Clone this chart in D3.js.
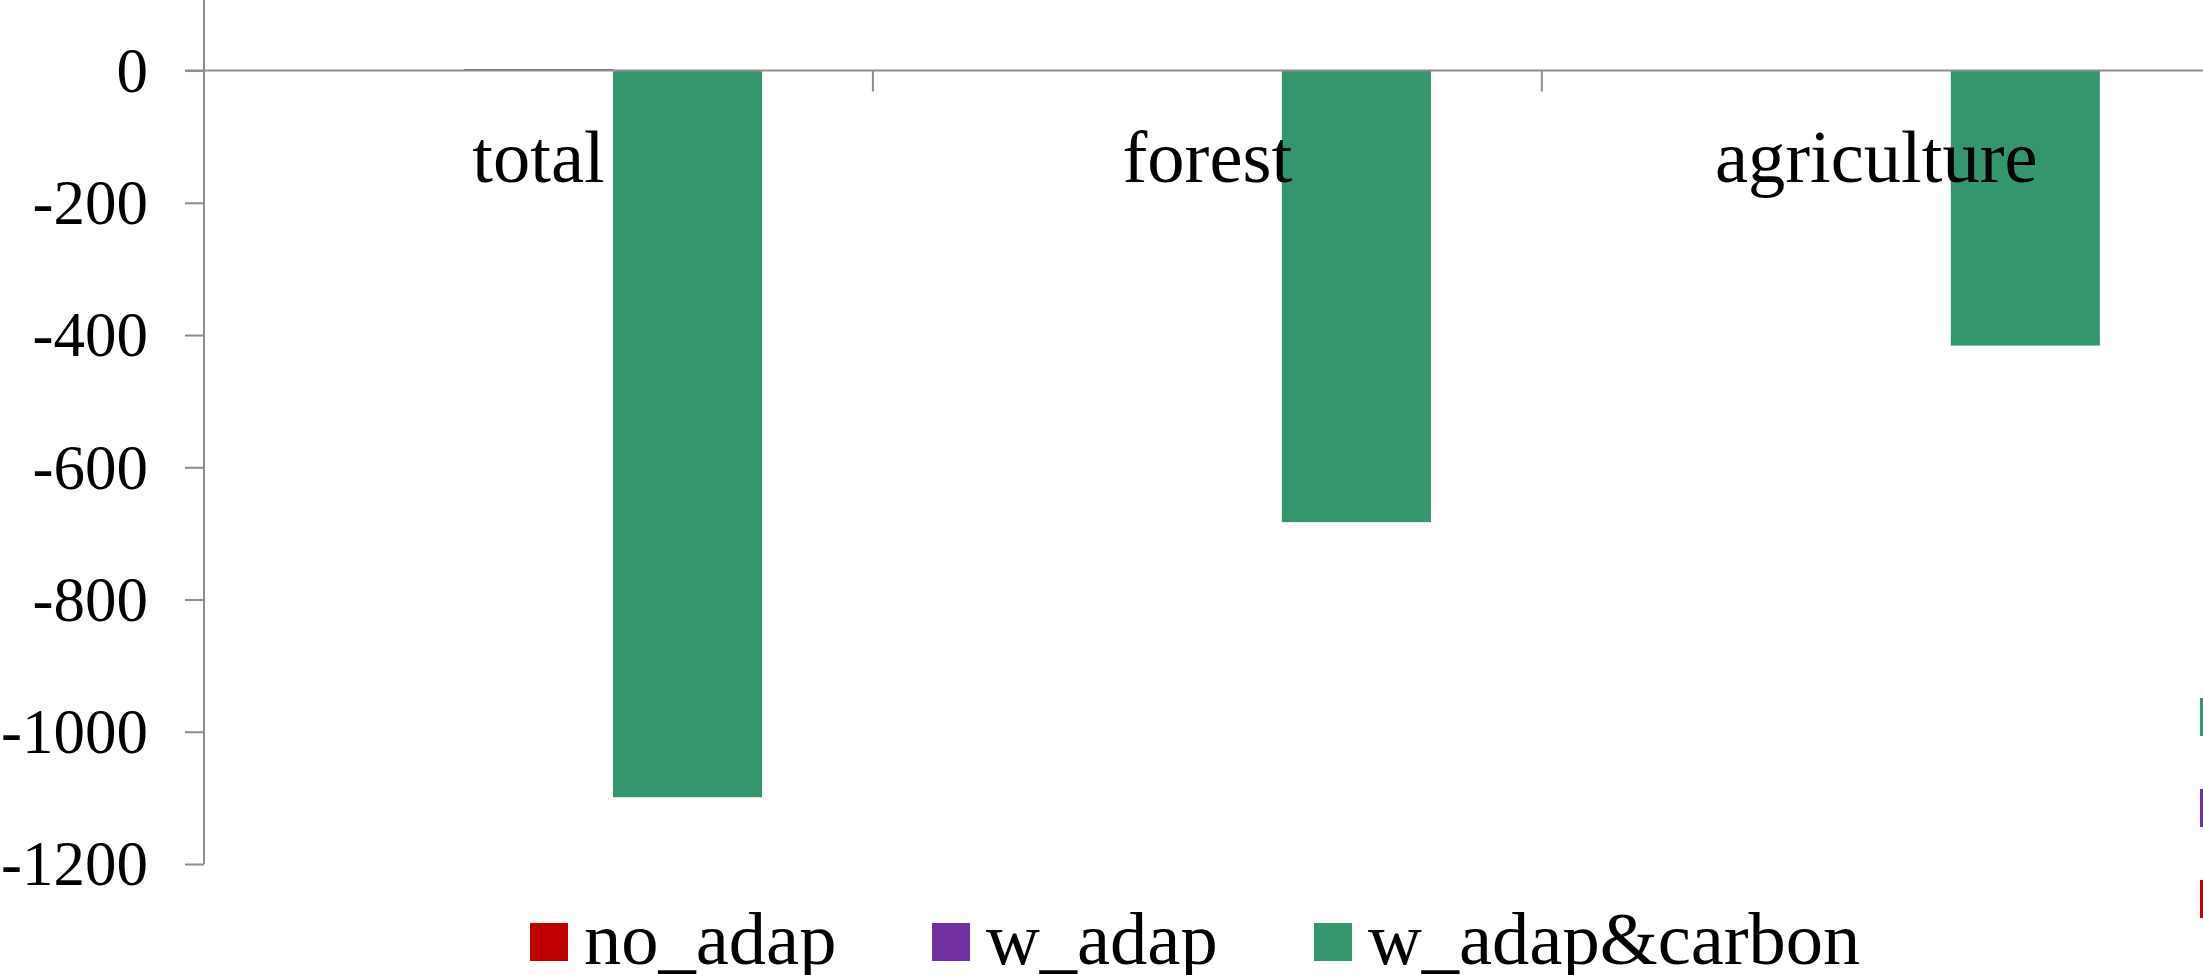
<!DOCTYPE html>
<html>
<head>
<meta charset="utf-8">
<script src="https://cdn.jsdelivr.net/npm/d3@7"></script>
<style>
  body { margin: 0; background: #fff; overflow: hidden; }
  text { font-family: "Liberation Serif", "Times New Roman", serif; fill: #000; }
</style>
</head>
<body>
<svg id="chart"></svg>
<script>
var width = 2203, height = 975

// data
var categories = ["total", "forest", "agriculture"]
var seriesNames = ["no_adap", "w_adap", "w_adap&carbon"]
var noAdap = [0, 0, 0]
var wAdap = [2, 0, 0]
var wAdapCarbon = [-1099, -683, -416]
var yTicks = [0, -200, -400, -600, -800, -1000, -1200]

var colors = ["#c00000", "#7030a0", "#33966d"]
var axisGray = "#8c8c8c"

var svg = d3.select("svg#chart")
    .attr("width", width)
    .attr("height", height)

var y = d3.scaleLinear()
    .domain([-1200, 200])
    .range([864, -61.7])

var x0 = d3.scaleBand()
    .domain(categories)
    .range([204, 2210.7])
    .padding(0)

var bw = x0.bandwidth()
var pad = bw * 0.1657
var x1 = d3.scaleBand()
    .domain(seriesNames)
    .range([pad, bw - pad])
    .padding(0)

var rows = categories.map(function(c, i) {
    return { cat: c, vals: [noAdap[i], wAdap[i], wAdapCarbon[i]] }
})

// bars
var groups = svg.append("g").attr("class", "bars")
    .selectAll("g")
    .data(rows)
    .enter().append("g")
    .attr("transform", function(d) { return "translate(" + x0(d.cat) + ",0)" })

groups.selectAll("rect")
    .data(function(d) { return d.vals.map(function(v, j) { return { name: seriesNames[j], v: v, j: j } }) })
    .enter().append("rect")
    .attr("x", function(d) { return x1(d.name) })
    .attr("width", x1.bandwidth())
    .attr("y", function(d) { return y(Math.max(0, d.v)) })
    .attr("height", function(d) { return Math.abs(y(d.v) - y(0)) })
    .style("fill", function(d) { return colors[d.j] })

// y axis
var yAxis = svg.append("g")
    .attr("transform", "translate(204,0)")
    .call(d3.axisLeft(y).tickValues(yTicks).tickSize(19).tickPadding(37).tickFormat(d3.format("d")))
yAxis.select(".domain").remove()
yAxis.selectAll(".tick line").style("stroke", axisGray).style("stroke-width", 2)
yAxis.selectAll(".tick text")
    .style("font-size", "63px")
    .attr("font-family", null)
    .attr("dy", "0.33em")
    .text(function(d) { return d === 0 ? "0" : "-" + Math.abs(d) })

svg.append("line")
    .attr("x1", 204).attr("x2", 204)
    .attr("y1", 0).attr("y2", y(-1200))
    .style("stroke", axisGray).style("stroke-width", 2)

// x axis along zero
svg.append("line")
    .attr("x1", 185).attr("x2", width)
    .attr("y1", y(0)).attr("y2", y(0))
    .style("stroke", axisGray).style("stroke-width", 2)

svg.append("g").selectAll("line")
    .data(categories)
    .enter().append("line")
    .attr("x1", function(d) { return x0(d) + bw }).attr("x2", function(d) { return x0(d) + bw })
    .attr("y1", y(0)).attr("y2", y(0) + 21)
    .style("stroke", axisGray).style("stroke-width", 2)

// category labels
svg.append("g").selectAll("text")
    .data(categories)
    .enter().append("text")
    .attr("x", function(d) { return x0(d) + bw / 2 })
    .attr("y", 182)
    .attr("text-anchor", "middle")
    .style("font-size", "74.5px")
    .text(function(d) { return d })

// legend
var legendX = [530, 932, 1314]
var legend = svg.append("g").selectAll("g")
    .data(seriesNames)
    .enter().append("g")
    .attr("transform", function(d, i) { return "translate(" + legendX[i] + ",923)" })
legend.append("rect")
    .attr("width", 38).attr("height", 38)
    .style("fill", function(d, i) { return colors[i] })
legend.append("text")
    .attr("x", 54).attr("y", 41)
    .style("font-size", "74.5px")
    .text(function(d) { return d })

// second legend, cut off at the right edge
var sideY = [698, 789, 880]
svg.append("g").selectAll("rect")
    .data(seriesNames.slice().reverse())
    .enter().append("rect")
    .attr("x", 2200).attr("y", function(d, i) { return sideY[i] })
    .attr("width", 38).attr("height", 38)
    .style("fill", function(d, i) { return colors[2 - i] })
</script>
</body>
</html>
